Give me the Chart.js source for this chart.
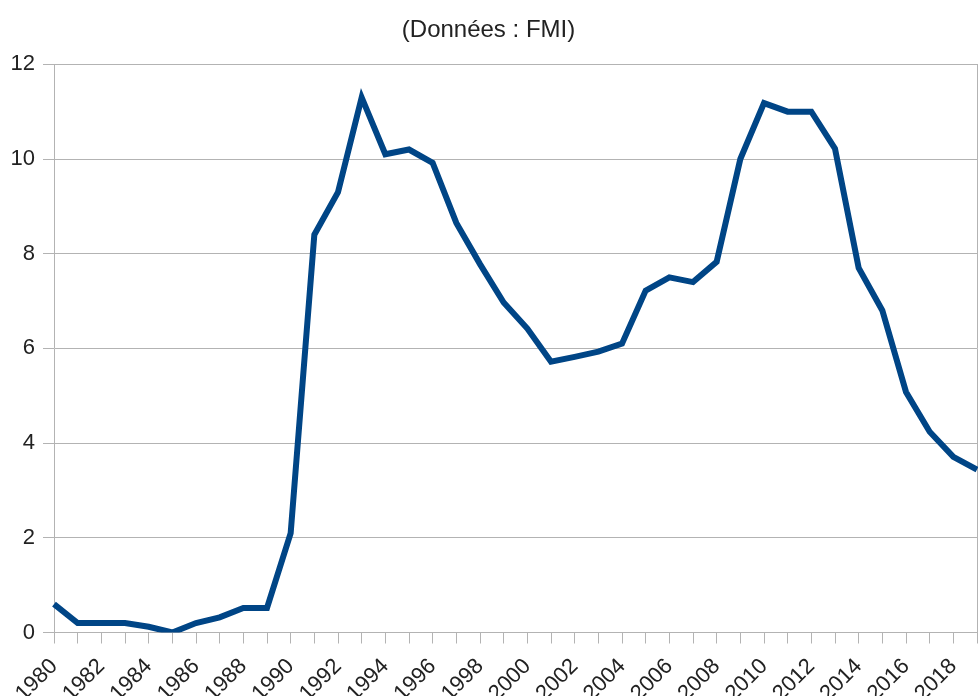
<!DOCTYPE html>
<html>
<head>
<meta charset="utf-8">
<script src="https://cdn.jsdelivr.net/npm/chart.js@4/dist/chart.umd.min.js"></script>
<style>
  html, body { margin: 0; padding: 0; background: #fff; overflow: hidden; }
</style>
</head>
<body>
<canvas id="grafico" width="978" height="696"></canvas>
<script>
// années et valeurs
const annees = ['1980', '1981', '1982', '1983', '1984', '1985', '1986', '1987', '1988', '1989',
    '1990', '1991', '1992', '1993', '1994', '1995', '1996', '1997', '1998', '1999',
    '2000', '2001', '2002', '2003', '2004', '2005', '2006', '2007', '2008', '2009',
    '2010', '2011', '2012', '2013', '2014', '2015', '2016', '2017', '2018', '2019'];
const valeurs = [0.6, 0.2, 0.2, 0.2, 0.12, 0.0, 0.2, 0.32, 0.52, 0.52,
    2.1, 8.4, 9.3, 11.3, 10.1, 10.2, 9.92, 8.65, 7.78, 6.97,
    6.42, 5.72, 5.82, 5.93, 6.1, 7.22, 7.5, 7.4, 7.83, 10.0,
    11.18, 11.0, 11.0, 10.22, 7.7, 6.8, 5.08, 4.24, 3.71, 3.44];
const yMin = 0;
const yMax = 12;
const yPas = 2;
const titre = '(Données : FMI)';

const gris = '#b3b3b3';
const texte = '#222222';
const police = 'Liberation Sans';

new Chart(document.getElementById('grafico'), {
    type: 'line',
    data: {
        labels: annees,
        datasets: [{
            data: valeurs,
            borderColor: '#004586',
            borderWidth: 6,
            pointRadius: 0,
            tension: 0,
            fill: false
        }]
    },
    options: {
        responsive: false,
        animation: false,
        layout: {
            padding: { left: 0, right: 1, top: 0, bottom: 0 }
        },
        plugins: {
            legend: { display: false },
            tooltip: { enabled: false },
            title: {
                display: true,
                text: titre,
                color: texte,
                font: { family: police, size: 24, weight: 'normal' },
                padding: { top: 16, bottom: 19.5 }
            }
        },
        scales: {
            x: {
                offset: false,
                grid: {
                    drawOnChartArea: false,
                    drawTicks: true,
                    tickLength: 11,
                    color: gris
                },
                border: { color: gris },
                ticks: {
                    autoSkip: false,
                    maxRotation: 45,
                    minRotation: 45,
                    padding: 10,
                    color: texte,
                    font: { family: police, size: 22 },
                    callback: (v, i) => (i % 2 === 0 ? annees[i] : '')
                },
                afterFit: (s) => {
                    s.height = 63.5;
                    s.paddingLeft = 0;
                    s.paddingRight = 0;
                }
            },
            y: {
                min: yMin,
                max: yMax,
                grid: {
                    color: gris,
                    drawTicks: true,
                    tickLength: 11
                },
                border: { color: gris },
                ticks: {
                    stepSize: yPas,
                    padding: 8,
                    color: texte,
                    font: { family: police, size: 22 }
                },
                afterFit: (s) => {
                    s.width = 54;
                }
            },
            y2: {
                position: 'right',
                min: yMin,
                max: yMax,
                grid: { drawOnChartArea: false, drawTicks: false },
                border: { color: gris },
                ticks: { display: false },
                afterFit: (s) => {
                    s.width = 0;
                }
            }
        }
    }
});
</script>
</body>
</html>
